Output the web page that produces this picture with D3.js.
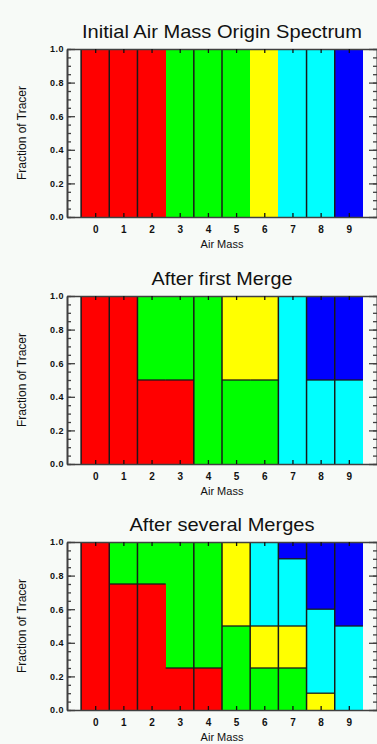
<!DOCTYPE html>
<html>
<head>
<meta charset="utf-8">
<script src="https://cdn.jsdelivr.net/npm/d3@7"></script>
<style>
  html, body { margin: 0; padding: 0; background: #f7faf7; }
  svg { display: block; }
  text { font-family: "Liberation Sans", Arial, sans-serif; }
</style>
</head>
<body>
<div id="chart"></div>
<script>
// chart values
const titles = ["Initial Air Mass Origin Spectrum", "After first Merge", "After several Merges"];
const airMass = [0, 1, 2, 3, 4, 5, 6, 7, 8, 9];
const yTicks = [0, 0.2, 0.4, 0.6, 0.8, 1.0];
const yTickLabels = ["0.0", "0.2", "0.4", "0.6", "0.8", "1.0"];

// origin of tracer in each bar, bottom to top: [origin, fraction]
const initialSpectrum = [
    [["red", 1]], [["red", 1]], [["red", 1]],
    [["green", 1]], [["green", 1]], [["green", 1]],
    [["yellow", 1]],
    [["cyan", 1]], [["cyan", 1]],
    [["blue", 1]]
];
const firstMerge = [
    [["red", 1]],
    [["red", 1]],
    [["red", 0.5], ["green", 0.5]],
    [["red", 0.5], ["green", 0.5]],
    [["green", 1]],
    [["green", 0.5], ["yellow", 0.5]],
    [["green", 0.5], ["yellow", 0.5]],
    [["cyan", 1]],
    [["cyan", 0.5], ["blue", 0.5]],
    [["cyan", 0.5], ["blue", 0.5]]
];
const severalMerges = [
    [["red", 1]],
    [["red", 0.75], ["green", 0.25]],
    [["red", 0.75], ["green", 0.25]],
    [["red", 0.25], ["green", 0.75]],
    [["red", 0.25], ["green", 0.75]],
    [["green", 0.5], ["yellow", 0.5]],
    [["green", 0.25], ["yellow", 0.25], ["cyan", 0.5]],
    [["green", 0.25], ["yellow", 0.25], ["cyan", 0.4], ["blue", 0.1]],
    [["yellow", 0.1], ["cyan", 0.5], ["blue", 0.4]],
    [["cyan", 0.5], ["blue", 0.5]]
];
// bars drawn without a dividing line on their left side
const joinedInitial = [3, 6, 7];
const joinedFirst = [3, 6];
const joinedSeveral = [3];

const panels = [
    { title: titles[0], bars: initialSpectrum, joined: joinedInitial, top: 49, titleLen: 280 },
    { title: titles[1], bars: firstMerge, joined: joinedFirst, top: 296, titleLen: 141 },
    { title: titles[2], bars: severalMerges, joined: joinedSeveral, top: 542, titleLen: 185 }
];

const colors = { red: "#ff0000", green: "#00ff00", yellow: "#ffff00", cyan: "#00ffff", blue: "#0000ff" };

const width = 377, height = 744;
const plotH = 168;
const axisColor = "#404040";

const svg = d3.select("#chart").append("svg")
    .attr("width", width)
    .attr("height", height);

svg.append("rect").attr("width", width).attr("height", height).attr("fill", "#f7faf7");

const x = d3.scaleLinear().domain([-1, 10]).range([67, 377]);
const minorTicks = d3.range(0, 21).map(d => d / 20);

panels.forEach(p => {
    const y = d3.scaleLinear().domain([0, 1]).range([p.top + plotH, p.top]);
    const g = svg.append("g");

    // stacked segments
    p.bars.forEach((segs, i) => {
        let y0 = 0;
        segs.forEach(([c, f]) => {
            const y1 = y0 + f;
            g.append("rect")
                .attr("x", x(i - 0.5))
                .attr("width", x(i + 0.5) - x(i - 0.5))
                .attr("y", y(y1))
                .attr("height", y(y0) - y(y1))
                .attr("fill", colors[c])
                .attr("shape-rendering", "crispEdges");
            y0 = y1;
        });
    });

    // boundaries between segments
    p.bars.forEach((segs, i) => {
        let y0 = 0;
        segs.slice(0, -1).forEach(([c, f]) => {
            y0 += f;
            g.append("line")
                .attr("x1", x(i - 0.5)).attr("x2", x(i + 0.5))
                .attr("y1", y(y0)).attr("y2", y(y0))
                .attr("stroke", "#1a1a1a").attr("stroke-width", 1.3);
        });
    });
    airMass.filter(i => !p.joined.includes(i)).forEach(i => {
        g.append("line")
            .attr("x1", x(i - 0.5)).attr("x2", x(i - 0.5))
            .attr("y1", y(0)).attr("y2", y(1))
            .attr("stroke", "#1a1a1a").attr("stroke-width", 1.5);
    });

    // axes
    const styleAxis = sel => {
        sel.select(".domain").attr("stroke", axisColor).attr("stroke-width", 1.6);
        sel.selectAll(".tick line").attr("stroke", axisColor).attr("stroke-width", 1.3);
    };

    g.append("g").attr("transform", `translate(${x(-1)},0)`)
        .call(d3.axisLeft(y).tickValues(minorTicks).tickSize(-4).tickSizeOuter(0).tickFormat(""))
        .call(styleAxis);
    g.append("g").attr("transform", `translate(${x(-1)},0)`)
        .call(d3.axisLeft(y).tickValues(yTicks).tickSize(-8).tickSizeOuter(0).tickPadding(3)
            .tickFormat((d, i) => yTickLabels[i]))
        .call(styleAxis)
        .call(a => a.selectAll("text").attr("fill", "#111").attr("font-size", 9)
            .attr("font-weight", "bold").attr("letter-spacing", 0.5));

    g.append("g").attr("transform", `translate(${x(10)},0)`)
        .call(d3.axisRight(y).tickValues(minorTicks).tickSize(-4).tickSizeOuter(0).tickFormat(""))
        .call(styleAxis);
    g.append("g").attr("transform", `translate(${x(10)},0)`)
        .call(d3.axisRight(y).tickValues(yTicks).tickSize(-8).tickSizeOuter(0).tickFormat(""))
        .call(styleAxis);

    g.append("g").attr("transform", `translate(0,${y(0)})`)
        .call(d3.axisBottom(x).tickValues(airMass).tickSize(-4).tickSizeOuter(0).tickPadding(9))
        .call(styleAxis)
        .call(a => a.selectAll(".tick line").attr("stroke", "#111"))
        .call(a => a.selectAll("text").attr("fill", "#111").attr("font-size", 10).attr("font-weight", "bold"));
    g.append("g").attr("transform", `translate(0,${y(1)})`)
        .call(d3.axisTop(x).tickValues(airMass).tickSize(-4).tickSizeOuter(0).tickFormat(""))
        .call(styleAxis)
        .call(a => a.selectAll(".tick line").attr("stroke", "#111"));

    // titles
    g.append("text")
        .attr("x", x(4.5)).attr("y", p.top - 11)
        .attr("text-anchor", "middle")
        .attr("font-size", 19)
        .attr("fill", "#111")
        .attr("textLength", p.titleLen)
        .attr("lengthAdjust", "spacingAndGlyphs")
        .text(p.title);

    g.append("text")
        .attr("x", x(4.5)).attr("y", p.top + plotH + 31)
        .attr("text-anchor", "middle")
        .attr("font-size", 11)
        .attr("fill", "#111")
        .text("Air Mass");

    g.append("text")
        .attr("transform", `translate(26,${p.top + plotH / 2}) rotate(-90)`)
        .attr("text-anchor", "middle")
        .attr("font-size", 12)
        .attr("fill", "#111")
        .text("Fraction of Tracer");
});
</script>
</body>
</html>
